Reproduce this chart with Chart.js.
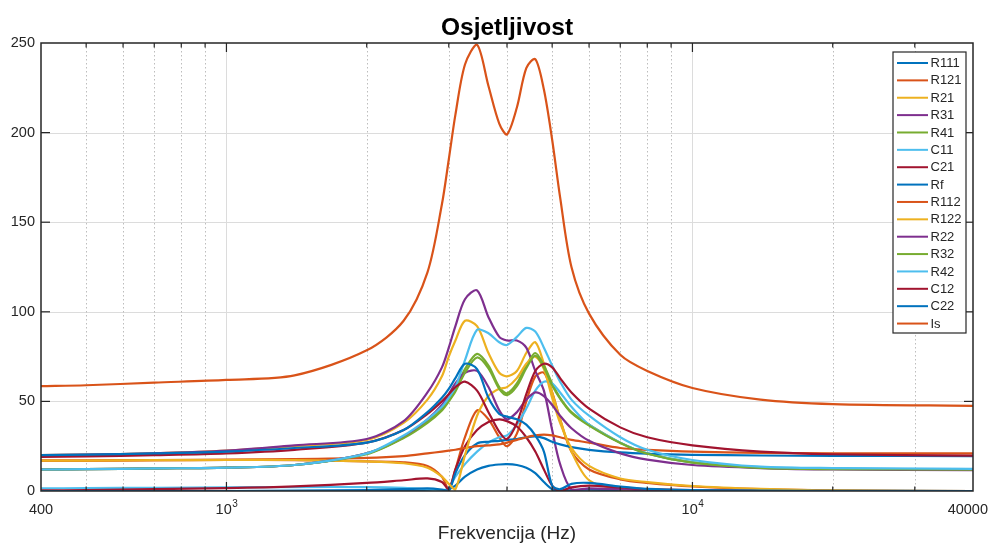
<!DOCTYPE html>
<html>
<head>
<meta charset="utf-8">
<script src="https://cdn.jsdelivr.net/npm/chart.js@4.4.1/dist/chart.umd.min.js"></script>
<style>
  html, body { margin: 0; padding: 0; background: #fff; }
  #wrap { width: 989px; height: 545px; }
</style>
</head>
<body>
<div id="wrap"><canvas id="sensChart" width="989" height="545"></canvas></div>
<script>
// frequency points (Hz) shared by every curve
const freqs = [400, 500, 700, 1000, 1400, 2000, 2400, 2700, 2900, 3000, 3100, 3250, 3450, 3650, 3850, 4000,
  4200, 4400, 4600, 4800, 5000, 5200, 5500, 6000, 7000, 8000, 10000, 14000, 20000, 40000];

// sensitivity curves
const R111 = [0, 0, 0, 0, 0, 0, 0, 0, 0, 1, 3, 8, 12, 14, 14.8, 15, 14.5, 13, 10, 5, 1, 0, 0.5, 0.8, 0.5, 0.3, 0.1, 0, 0, 0];
const R121 = [17, 17, 17.2, 17.3, 17.2, 16.5, 16, 14, 8, 1, 12, 30, 45, 40, 30, 25, 32, 50, 64, 66, 55, 40, 22, 12, 6.5, 4.5, 2.5, 1, 0.3, 0];
const R21 = [20, 20.3, 21, 22.5, 25, 28.5, 38, 51, 64, 75, 84, 95, 92, 77, 66, 64, 67, 77, 83, 71, 55, 40, 22, 6, 1, 0.3, 0.1, 0, 0, 0];
const R31 = [20, 20.3, 21, 22.5, 25.5, 29, 39, 55, 69, 80, 92, 107, 112, 97, 86, 84, 84, 80, 67, 56, 34, 15, 1, 1.5, 1, 0.5, 0.2, 0.1, 0, 0];
const R41 = [12, 12.2, 12.6, 13, 14.5, 21, 30, 39, 46, 51, 57, 68, 76.5, 70, 58, 54.5, 60, 70, 77, 70, 60, 52, 44, 37, 27, 21, 16, 13, 12.3, 12];
const C11 = [1.5, 1.6, 1.8, 2, 2.2, 2.2, 1.8, 1, 0.3, 2, 8, 15, 22, 27, 30, 31, 37, 46, 56, 61, 60, 55, 47, 37, 27, 21, 16, 13.3, 12.6, 12.2];
const C21 = [0.3, 0.5, 1, 1.6, 2.6, 4.5, 6, 7, 5, 1, 12, 25, 34, 38.5, 40, 39, 36, 30, 22, 12, 3, 0, 2, 3, 2, 1, 0.5, 0.2, 0, 0];
const Rf = [0, 0, 0, 0, 0.2, 0.5, 1, 1.5, 0.8, 0, 10, 20, 26.5, 27.5, 28, 28.5, 29, 30, 30.5, 29.5, 27.5, 26, 24.5, 23, 21.5, 20.8, 20.2, 19.8, 19.6, 19.5];
const R112 = [17, 17, 17.2, 17.5, 17.8, 18.5, 19.5, 21, 22, 22.5, 23, 24, 25, 25.5, 26, 27, 28.5, 30, 31, 31.5, 31, 30, 28.5, 27, 24, 23, 22, 21.3, 21, 21];
const R122 = [17, 17, 17.2, 17.3, 17.3, 16.5, 15.5, 13, 8, 4, 1, 20, 42, 53, 57, 58, 63, 71, 75, 68, 52, 38, 24, 14, 7, 5, 2.8, 1.2, 0.3, 0];
const R22 = [12, 12.2, 12.6, 13, 14.5, 21, 30, 40, 48, 54, 60, 66, 67, 58, 45, 40, 44, 51, 55, 53, 48, 42, 35, 28, 21, 17.5, 14.5, 12.8, 12, 11.7];
const R32 = [12, 12.2, 12.6, 13, 14.5, 20.5, 29.5, 38, 45, 50, 55.5, 66, 74.5, 68.5, 57, 53.5, 58.5, 68.5, 75.5, 69, 59, 51.5, 43.5, 36.5, 26.8, 20.8, 15.8, 12.9, 12.2, 11.9];
const R42 = [12, 12.2, 12.6, 13, 14.5, 21, 31, 40, 47, 52, 58, 73, 90, 88, 83, 81.5, 86, 91, 89, 80, 70, 61, 51, 42, 30, 23, 17.3, 13.6, 12.8, 12.4];
const C12 = [19, 19.3, 20, 21, 23, 27, 34, 43, 50, 54, 58, 61, 56, 44, 33, 29, 38, 54, 67, 71, 69, 63, 55, 46, 35.5, 30, 25.5, 22, 20.5, 19.7];
const C22 = [20, 20.3, 21, 22, 24, 27, 34, 44, 52, 57, 63, 71, 68, 52, 43, 41.5, 40, 37, 31, 22, 3, 1, 4, 4.5, 2.5, 1.2, 0.5, 0.2, 0.1, 0];
const Is = [58.5, 59, 60.5, 62, 64.5, 78.5, 95, 122, 160, 185, 210, 238, 249, 226, 205, 199, 214, 236, 241, 224, 196, 164, 125, 99, 76, 67, 57.5, 51, 48.5, 47.5];

const seriesNames = ['R111', 'R121', 'R21', 'R31', 'R41', 'C11', 'C21', 'Rf', 'R112', 'R122', 'R22', 'R32', 'R42', 'C12', 'C22', 'Is'];
const seriesValues = [R111, R121, R21, R31, R41, C11, C21, Rf, R112, R122, R22, R32, R42, C12, C22, Is];

// axis ticks
const yTicks = [0, 50, 100, 150, 200, 250];
const xLabelTicks = [400, 1000, 10000, 40000];
const xLabelText = [['400', ''], ['10', '3'], ['10', '4'], ['40000', '']];
const xMajorGrid = [1000, 10000];
const xMinorGrid = [500, 600, 700, 800, 900, 2000, 3000, 4000, 5000, 6000, 7000, 8000, 9000, 20000, 30000];

// matlab default line colours
const palette = ['#0072BD', '#D95319', '#EDB120', '#7E2F8E', '#77AC30', '#4DBEEE', '#A2142F'];
const axisColor = '#262626';
const FONT = '"Liberation Sans", Arial, sans-serif';

function seg(ctx, x1, y1, x2, y2) {
  ctx.beginPath();
  ctx.moveTo(x1, y1);
  ctx.lineTo(x2, y2);
  ctx.stroke();
}

const matlabFrame = {
  id: 'matlabFrame',
  beforeDatasetsDraw(chart) {
    const { ctx, chartArea: a, scales: { x, y } } = chart;
    ctx.save();
    ctx.lineWidth = 1;
    ctx.strokeStyle = '#dcdcdc';
    yTicks.forEach(v => {
      if (v <= 0 || v >= 250) return;
      const py = Math.round(y.getPixelForValue(v)) + 0.5;
      seg(ctx, a.left, py, a.right, py);
    });
    xMajorGrid.forEach(f => {
      const px = Math.round(x.getPixelForValue(f)) + 0.5;
      seg(ctx, px, a.top, px, a.bottom);
    });
    ctx.strokeStyle = '#bdbdbd';
    ctx.setLineDash([1.5, 2.5]);
    xMinorGrid.forEach(f => {
      const px = Math.round(x.getPixelForValue(f)) + 0.5;
      seg(ctx, px, a.top, px, a.bottom);
    });
    ctx.restore();
  },
  afterDraw(chart) {
    const { ctx, chartArea: a, scales: { x, y } } = chart;
    ctx.save();
    // box
    ctx.strokeStyle = axisColor;
    ctx.lineWidth = 1.5;
    ctx.strokeRect(a.left, a.top, a.right - a.left, a.bottom - a.top);
    // ticks pointing inwards
    ctx.lineWidth = 1.2;
    const xt = xMinorGrid.map(f => [f, 4.5]).concat(xMajorGrid.map(f => [f, 9]));
    xt.forEach(([f, len]) => {
      const px = x.getPixelForValue(f);
      seg(ctx, px, a.bottom, px, a.bottom - len);
      seg(ctx, px, a.top, px, a.top + len);
    });
    yTicks.forEach(v => {
      if (v <= 0 || v >= 250) return;
      const py = y.getPixelForValue(v);
      seg(ctx, a.left, py, a.left + 9, py);
      seg(ctx, a.right, py, a.right - 9, py);
    });
    // x tick labels (10^n written with a raised exponent)
    ctx.fillStyle = axisColor;
    ctx.textBaseline = 'middle';
    xLabelTicks.forEach((f, i) => {
      const [base, exp] = xLabelText[i];
      const px = x.getPixelForValue(f);
      ctx.font = '14.5px ' + FONT;
      const wb = ctx.measureText(base).width;
      ctx.font = '10px ' + FONT;
      const we = exp ? ctx.measureText(exp).width : 0;
      let left = px - (wb + we) / 2;
      if (left + wb + we > chart.width - 1) left = chart.width - 1 - wb - we;
      ctx.textAlign = 'left';
      ctx.font = '14.5px ' + FONT;
      ctx.fillText(base, left, a.bottom + 19);
      if (exp) {
        ctx.font = '10px ' + FONT;
        ctx.fillText(exp, left + wb + 0.5, a.bottom + 13);
      }
    });
    // title
    ctx.fillStyle = '#000';
    ctx.font = 'bold 24.5px ' + FONT;
    ctx.textAlign = 'center';
    ctx.fillText('Osjetljivost', (a.left + a.right) / 2, 28.5);

    // legend box
    const lx2 = a.right - 7, lx1 = lx2 - 73;
    const ly1 = a.top + 9, ly2 = a.top + 290;
    ctx.fillStyle = '#fff';
    ctx.fillRect(lx1, ly1, lx2 - lx1, ly2 - ly1);
    ctx.strokeStyle = axisColor;
    ctx.lineWidth = 1.2;
    ctx.strokeRect(lx1, ly1, lx2 - lx1, ly2 - ly1);
    ctx.font = '13px ' + FONT;
    ctx.textAlign = 'left';
    chart.data.datasets.forEach((ds, i) => {
      const ly = ly1 + 11 + i * 17.37;
      ctx.strokeStyle = ds.borderColor;
      ctx.lineWidth = 2;
      seg(ctx, lx1 + 4, ly, lx1 + 35, ly);
      ctx.fillStyle = axisColor;
      ctx.fillText(ds.label, lx1 + 37.5, ly + 0.5);
    });
    ctx.restore();
  }
};

const datasets = seriesNames.map((name, i) => ({
  label: name,
  data: freqs.map((f, k) => ({ x: f, y: seriesValues[i][k] })),
  borderColor: palette[i % palette.length],
  backgroundColor: palette[i % palette.length],
  borderWidth: 2.2,
  pointRadius: 0,
  fill: false,
  tension: 0.3,
  order: seriesNames.length - i
}));

new Chart(document.getElementById('sensChart').getContext('2d'), {
  type: 'line',
  data: { datasets },
  plugins: [matlabFrame],
  options: {
    responsive: false,
    animation: false,
    devicePixelRatio: 1,
    layout: { padding: { top: 43, right: 16, left: 0, bottom: 0 } },
    plugins: { legend: { display: false }, tooltip: { enabled: false }, title: { display: false } },
    scales: {
      x: {
        type: 'logarithmic',
        min: 400,
        max: 40000,
        grid: { display: false },
        border: { display: false },
        afterBuildTicks: scale => { scale.ticks = xLabelTicks.map(v => ({ value: v })); },
        afterFit: scale => { scale.height = 54; scale.paddingLeft = 0; scale.paddingRight = 0; },
        ticks: { display: false },
        title: {
          display: true,
          text: 'Frekvencija (Hz)',
          color: axisColor,
          font: { family: FONT, size: 19 },
          padding: { top: 0, bottom: 0 }
        }
      },
      y: {
        min: 0,
        max: 250,
        grid: { display: false, drawTicks: false },
        border: { display: false },
        afterBuildTicks: scale => { scale.ticks = yTicks.map(v => ({ value: v })); },
        afterFit: scale => { scale.width = 41; scale.paddingTop = 0; scale.paddingBottom = 0; },
        ticks: {
          padding: 6,
          color: axisColor,
          font: { family: FONT, size: 14.5 }
        }
      }
    }
  }
});
</script>
</body>
</html>
